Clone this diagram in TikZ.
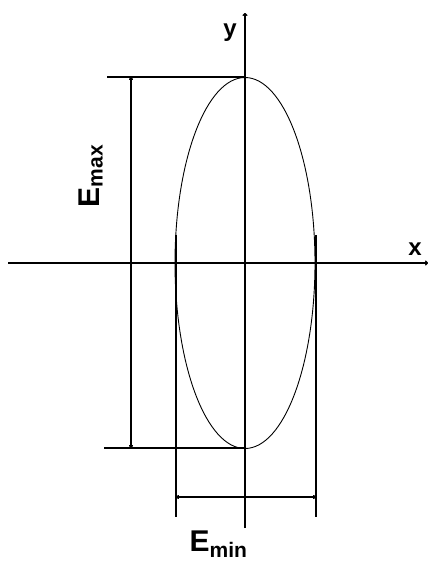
\documentclass[tikz,border=0pt]{standalone}
\usepackage{fontspec}
\setmainfont{Liberation Sans}
\usepackage{tikz}
\usetikzlibrary{arrows.meta,calc,positioning}

\begin{document}
\begin{tikzpicture}[x=1pt,y=-1pt,line width=1.3pt,
    dimline/.style={{To[length=3pt,width=4pt]}-{To[length=3pt,width=4pt]}},
    axislbl/.style={font=\fontsize{24}{24}\selectfont\bfseries,inner sep=0pt},
    elbl/.style={font=\fontsize{30}{30}\selectfont\bfseries,inner sep=0pt}]
  \useasboundingbox (0,0) rectangle (430,563);
  % axes and ellipse
  \coordinate (O) at (245,263);
  \coordinate (xa) at (8,263);
  \coordinate (xb) at (428,263);
  \coordinate (ya) at (245,528);
  \coordinate (yb) at (245,13);
  \draw[-{To[length=3pt,width=5pt]}] (xa) -- (xb);
  \draw[-{To[length=3pt,width=5pt]}] (ya) -- (yb);
  \draw[line width=0.9pt] (O) ellipse [x radius=70,y radius=185.5];
  % E_max
  \coordinate (top) at (245,77);
  \coordinate (bot) at (245,448);
  \coordinate (mt) at (131,77);
  \coordinate (mb) at (131,448);
  \draw (top) -- (107,77);
  \draw (bot) -- (104,448);
  \draw[dimline] (mt) -- (mb);
  % E_min
  \coordinate (lf) at (176,235);
  \coordinate (rt) at (316,235);
  \coordinate (nl) at (176,497);
  \coordinate (nr) at (316,497);
  \draw (lf) -- (176,517);
  \draw (rt) -- (316,517);
  \draw[dimline] (nl) -- (nr);
  % labels
  \node[axislbl] (ylbl) at (230,33) {y};
  \node[axislbl] (xlbl) at (415,249) {x};
  \node[elbl,rotate=90,anchor=base] (emax) at (99,176) {E\textsubscript{max}};
  \node[elbl,anchor=base west] (emin) at (189,551) {E\textsubscript{min}};
\end{tikzpicture}
\end{document}
